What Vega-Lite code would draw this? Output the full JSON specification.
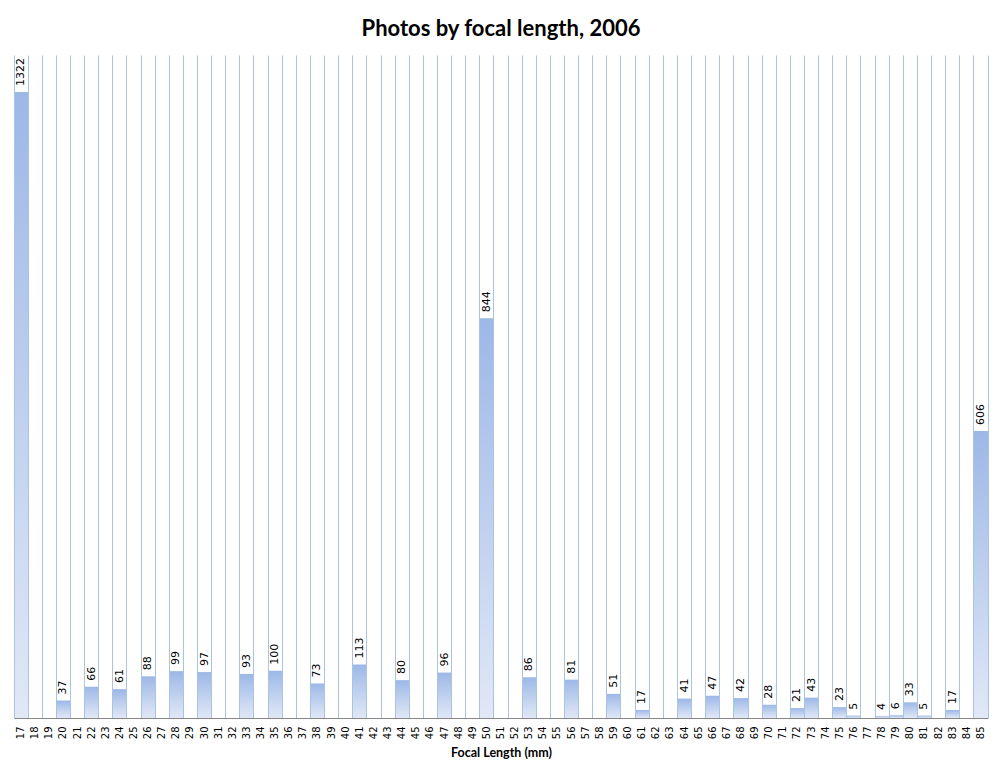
{
  "$schema": "https://vega.github.io/schema/vega-lite/v6.json",
  "autosize": {"type": "none"},
  "width": 974,
  "height": 663,
  "padding": {"left": 14, "top": 55, "right": 16, "bottom": 60},
  "background": "white",
  "title": {
    "text": "Photos by focal length, 2006",
    "font": "Lato",
    "fontSize": 22,
    "fontWeight": "bold",
    "color": "#000000",
    "anchor": "middle",
    "offset": 14
  },
  "data": {
    "values": [
      {"focal": "17", "count": 1322}, {"focal": "18", "count": 0}, {"focal": "19", "count": 0},
      {"focal": "20", "count": 37}, {"focal": "21", "count": 0}, {"focal": "22", "count": 66},
      {"focal": "23", "count": 0}, {"focal": "24", "count": 61}, {"focal": "25", "count": 0},
      {"focal": "26", "count": 88}, {"focal": "27", "count": 0}, {"focal": "28", "count": 99},
      {"focal": "29", "count": 0}, {"focal": "30", "count": 97}, {"focal": "31", "count": 0},
      {"focal": "32", "count": 0}, {"focal": "33", "count": 93}, {"focal": "34", "count": 0},
      {"focal": "35", "count": 100}, {"focal": "36", "count": 0}, {"focal": "37", "count": 0},
      {"focal": "38", "count": 73}, {"focal": "39", "count": 0}, {"focal": "40", "count": 0},
      {"focal": "41", "count": 113}, {"focal": "42", "count": 0}, {"focal": "43", "count": 0},
      {"focal": "44", "count": 80}, {"focal": "45", "count": 0}, {"focal": "46", "count": 0},
      {"focal": "47", "count": 96}, {"focal": "48", "count": 0}, {"focal": "49", "count": 0},
      {"focal": "50", "count": 844}, {"focal": "51", "count": 0}, {"focal": "52", "count": 0},
      {"focal": "53", "count": 86}, {"focal": "54", "count": 0}, {"focal": "55", "count": 0},
      {"focal": "56", "count": 81}, {"focal": "57", "count": 0}, {"focal": "58", "count": 0},
      {"focal": "59", "count": 51}, {"focal": "60", "count": 0}, {"focal": "61", "count": 17},
      {"focal": "62", "count": 0}, {"focal": "63", "count": 0}, {"focal": "64", "count": 41},
      {"focal": "65", "count": 0}, {"focal": "66", "count": 47}, {"focal": "67", "count": 0},
      {"focal": "68", "count": 42}, {"focal": "69", "count": 0}, {"focal": "70", "count": 28},
      {"focal": "71", "count": 0}, {"focal": "72", "count": 21}, {"focal": "73", "count": 43},
      {"focal": "74", "count": 0}, {"focal": "75", "count": 23}, {"focal": "76", "count": 5},
      {"focal": "77", "count": 0}, {"focal": "78", "count": 4}, {"focal": "79", "count": 6},
      {"focal": "80", "count": 33}, {"focal": "81", "count": 5}, {"focal": "82", "count": 0},
      {"focal": "83", "count": 17}, {"focal": "84", "count": 0}, {"focal": "85", "count": 606}
    ]
  },
  "encoding": {
    "x": {
      "field": "focal",
      "type": "ordinal",
      "sort": null,
      "scale": {"paddingInner": 0, "paddingOuter": 0},
      "axis": {
        "title": "Focal  Length (mm)",
        "titleFont": "Lato",
        "titleFontSize": 12.5,
        "titleFontWeight": "bold",
        "titleColor": "#000000",
        "titlePadding": 8,
        "labelAngle": -90,
        "labelFont": "DejaVu Sans",
        "labelFontSize": 10,
        "labelColor": "#000000",
        "labelPadding": 8,
        "ticks": false,
        "tickSize": 0,
        "grid": true,
        "bandPosition": 0,
        "gridColor": "#A9C3E5",
        "gridWidth": 1,
        "gridOpacity": 1,
        "domainColor": "#868686",
        "domainWidth": 1,
        "zindex": 1
      }
    },
    "y": {
      "field": "count",
      "type": "quantitative",
      "scale": {"domain": [0, 1400], "nice": false},
      "axis": {
        "orient": "right",
        "title": null,
        "labels": false,
        "ticks": false,
        "grid": false,
        "domainColor": "#A9C3E5",
        "domainWidth": 1,
        "zindex": 1
      }
    }
  },
  "layer": [
    {
      "mark": {
        "type": "bar",
        "color": {
          "gradient": "linear",
          "x1": 0, "y1": 0, "x2": 0, "y2": 1,
          "stops": [
            {"offset": 0, "color": "#9CB8E7"},
            {"offset": 1, "color": "#E1E8F6"}
          ]
        }
      }
    },
    {
      "transform": [{"filter": "datum.count > 0"}],
      "mark": {
        "type": "text",
        "angle": -90,
        "align": "left",
        "baseline": "middle",
        "dx": 6,
        "font": "DejaVu Sans",
        "fontSize": 11,
        "color": "#000000"
      },
      "encoding": {
        "text": {"field": "count", "type": "quantitative"}
      }
    }
  ],
  "config": {
    "view": {"stroke": null}
  }
}
